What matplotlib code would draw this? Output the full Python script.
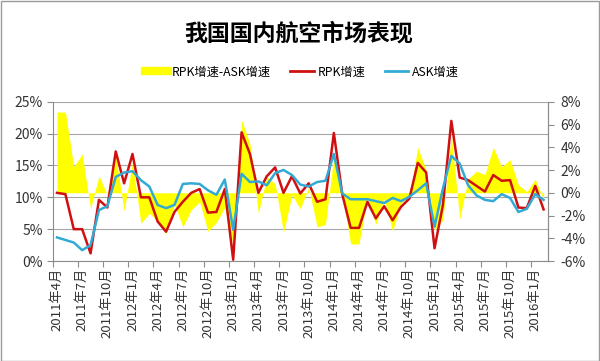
import matplotlib
matplotlib.use("Agg")
import matplotlib.pyplot as plt
from matplotlib.lines import Line2D
from matplotlib.patches import Rectangle
import numpy as np

plt.rcParams['font.family'] = ['Noto Sans CJK SC', 'DejaVu Sans']
plt.rcParams['axes.unicode_minus'] = False

# 月度数据：2011年4月 - 2016年2月（%）
rpk = [10.7, 10.5, 5.0, 5.0, 1.2, 9.6, 8.4, 17.2, 12.2, 16.8,
       10.0, 10.0, 6.2, 4.6, 7.7, 9.3, 10.7, 11.3, 7.6, 7.7,
       11.3, 0.2, 20.2, 16.8, 10.7, 13.3, 14.7, 10.7, 13.3, 10.6,
       12.2, 9.3, 9.7, 20.1, 10.5, 5.2, 5.2, 9.3, 6.7, 8.6,
       6.4, 8.5, 9.8, 15.4, 13.9, 2.0, 8.8, 22.0, 13.1, 12.7,
       11.8, 10.9, 13.5, 12.6, 12.7, 8.4, 8.3, 11.8, 8.1]
ask = [3.7, 3.3, 2.9, 1.7, 2.5, 8.0, 8.6, 13.2, 13.9, 14.1,
       12.7, 11.7, 8.8, 8.3, 8.8, 12.1, 12.2, 12.1, 11.1, 10.4,
       12.8, 4.9, 13.7, 12.4, 12.5, 11.9, 13.8, 14.3, 13.5, 12.0,
       11.7, 12.4, 12.6, 16.8, 10.6, 9.7, 9.7, 9.7, 9.4, 9.1,
       9.9, 9.4, 10.1, 11.1, 12.2, 5.4, 11.4, 16.5, 15.3, 11.9,
       10.3, 9.6, 9.4, 10.5, 9.9, 7.7, 8.2, 10.5, 9.6]
gap = [7.1, 7.1, 2.3, 3.4, -1.4, 1.5, -0.2, 3.3, -1.6, 2.7,
       -2.7, -1.8, -2.5, -3.6, -1.0, -3.0, -1.5, -0.8, -3.4, -2.6,
       -1.3, -4.6, 6.4, 4.3, -1.8, 1.4, 0.8, -3.5, -0.2, -1.4,
       0.5, -3.0, -2.8, 3.3, -0.1, -4.5, -4.5, -0.4, -2.8, -0.5,
       -3.4, -0.9, -0.3, 4.0, 2.0, -3.3, -2.4, 5.1, -2.3, 1.2,
       1.9, 1.6, 4.0, 2.3, 2.9, 0.7, 0.1, 1.2, -0.6]
tick_labels = ['2011年4月', '2011年7月', '2011年10月', '2012年1月', '2012年4月',
               '2012年7月', '2012年10月', '2013年1月', '2013年4月', '2013年7月',
               '2013年10月', '2014年1月', '2014年4月', '2014年7月', '2014年10月',
               '2015年1月', '2015年4月', '2015年7月', '2015年10月', '2016年1月']

# 右轴(-6%~8%) 与左轴(0%~25%) 的换算
def r2l(v):
    return (np.asarray(v) + 6) * 25 / 14

def l2r(v):
    return np.asarray(v) * 14 / 25 - 6

x = np.arange(len(rpk))
grey = '#8c8c8c'

fig = plt.figure(figsize=(6, 3.61), dpi=100)
ax = fig.add_axes([0.088, 0.277, 0.825, 0.441])

ax.set_axisbelow(True)
ax.grid(axis='y', color='#a6a6a6', lw=0.8)
ax.fill_between(x, r2l(0), r2l(gap), color='#ffff00', lw=0, zorder=1)
ax.plot(x, rpk, color='#d01010', lw=1.8, zorder=3)
ax.plot(x, ask, color='#33aad4', lw=1.8, zorder=4)

ax.set_xlim(-0.5, len(rpk) - 0.5)
ax.set_ylim(0, 25)
ax.set_yticks(np.arange(0, 26, 5))
ax.set_yticklabels([f'{v}%' for v in range(0, 26, 5)], fontsize=10, color='#333333')

ax.set_xticks(np.arange(-0.5, len(rpk), 3))
ax.set_xticklabels([])
ax.set_xticks(np.arange(0, len(rpk), 3), minor=True)
ax.set_xticklabels(tick_labels, minor=True, rotation=90, fontsize=9.5, color='#333333')
ax.tick_params(axis='x', which='major', length=4, color=grey, direction='out')
ax.tick_params(axis='x', which='minor', length=0, pad=5)
ax.tick_params(axis='y', length=4, color=grey, pad=3)

sec = ax.secondary_yaxis('right', functions=(l2r, r2l))
sec.set_yticks(np.arange(-6, 9, 2))
sec.set_yticklabels([f'{v}%' for v in range(-6, 9, 2)], fontsize=10, color='#333333')
sec.tick_params(length=4, color=grey, pad=5)
sec.spines['right'].set_color(grey)

for s in ['left', 'bottom', 'right']:
    ax.spines[s].set_color(grey)
ax.spines['top'].set_visible(False)

fig.text(0.497, 0.905, '我国国内航空市场表现', ha='center', va='center',
         fontsize=16.5, fontweight='bold')

handles = [Line2D([], [], color='#ffff00', lw=6),
           Line2D([], [], color='#d01010', lw=2),
           Line2D([], [], color='#33aad4', lw=2)]
fig.legend(handles, ['RPK增速-ASK增速', 'RPK增速', 'ASK增速'], loc='center',
           bbox_to_anchor=(0.503, 0.8), ncol=3, frameon=False, fontsize=8.8,
           handlelength=1.9, handletextpad=0.3, columnspacing=1.6)

fig.patches.append(Rectangle((0.001, 0.001), 0.997, 0.996, transform=fig.transFigure,
                             fill=False, edgecolor='#9a9a9a', lw=1))

fig.savefig('out.png', dpi=100)
